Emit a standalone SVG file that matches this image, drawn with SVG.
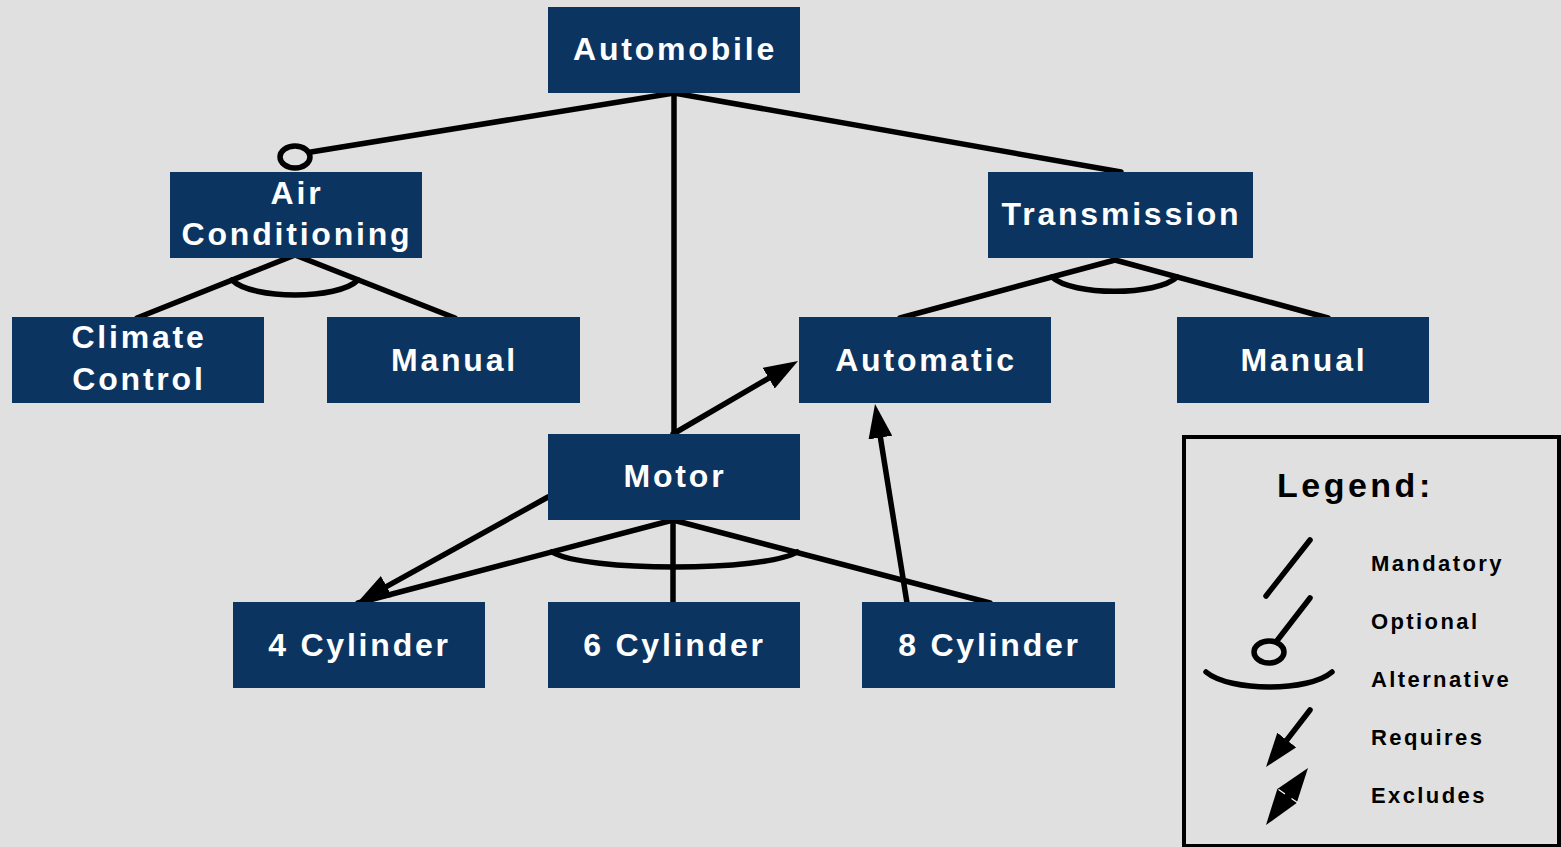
<svg xmlns="http://www.w3.org/2000/svg" width="1561" height="847" viewBox="0 0 1561 847">
  <style>
    .node rect { fill: #0b3461; }
    .node text { fill: #ffffff; font-family: "Liberation Sans", Arial, sans-serif; font-weight: bold; font-size: 32px; letter-spacing: 2.8px; text-anchor: middle; }
    .edge { stroke: #000000; stroke-width: 5.5; stroke-linecap: round; fill: none; }
    .legend-title { font-family: "Liberation Sans", Arial, sans-serif; font-weight: bold; font-size: 34px; letter-spacing: 3.5px; fill: #000000; }
    .legend-label { font-family: "Liberation Sans", Arial, sans-serif; font-weight: bold; font-size: 22px; letter-spacing: 2.4px; fill: #000000; }
  </style>
  <defs>
    <marker id="req" viewBox="0 0 34 24" refX="19" refY="12" markerWidth="34" markerHeight="24" markerUnits="userSpaceOnUse" orient="auto">
      <path d="M34,12 L0,0 L0,24 Z" fill="#000000"/>
    </marker>
  </defs>

  <rect x="0" y="0" width="1561" height="847" fill="#e0e0e0"/>

  <!-- connectors -->
  <g id="connectors">
    <!-- Automobile children -->
    <line class="edge" x1="674" y1="93" x2="311" y2="152"/>
    <ellipse class="edge" cx="295" cy="157" rx="15" ry="11"/>
    <line class="edge" x1="674" y1="93" x2="674" y2="434"/>
    <line class="edge" x1="674" y1="93" x2="1121" y2="172"/>

    <!-- Air Conditioning alternatives -->
    <line class="edge" x1="295" y1="255" x2="137" y2="318"/>
    <line class="edge" x1="295" y1="255" x2="455" y2="318"/>
    <path class="edge" d="M232,280 C252,300 338,300 358,280"/>

    <!-- Transmission alternatives -->
    <line class="edge" x1="1115" y1="260" x2="900" y2="318"/>
    <line class="edge" x1="1115" y1="260" x2="1328" y2="318"/>
    <path class="edge" d="M1052,277 C1072,296 1157,296 1177,277"/>

    <!-- Motor alternatives -->
    <line class="edge" x1="673" y1="520" x2="358" y2="603"/>
    <line class="edge" x1="673" y1="520" x2="673" y2="602"/>
    <line class="edge" x1="673" y1="520" x2="990" y2="603"/>
    <path class="edge" d="M552,552 C585,572 764,572 797,552"/>

    <!-- requires relations -->
    <line class="edge" x1="548" y1="497" x2="370.1" y2="595.7" marker-end="url(#req)"/>
    <line class="edge" x1="673" y1="434" x2="785.1" y2="368.6" marker-end="url(#req)"/>
    <line class="edge" x1="907" y1="603" x2="877.4" y2="418.8" marker-end="url(#req)"/>
  </g>

  <!-- feature nodes -->
  <g id="automobile" class="node">
    <rect x="548" y="7" width="252" height="86"/>
    <text x="675" y="60">Automobile</text>
  </g>
  <g id="air-conditioning" class="node">
    <rect x="170" y="172" width="252" height="86"/>
    <text x="297" y="204">Air</text>
    <text x="297" y="245">Conditioning</text>
  </g>
  <g id="transmission" class="node">
    <rect x="988" y="172" width="265" height="86"/>
    <text x="1121.5" y="225">Transmission</text>
  </g>
  <g id="climate-control" class="node">
    <rect x="12" y="317" width="252" height="86"/>
    <text x="139" y="348">Climate</text>
    <text x="139" y="390">Control</text>
  </g>
  <g id="ac-manual" class="node">
    <rect x="327" y="317" width="253" height="86"/>
    <text x="454.5" y="371">Manual</text>
  </g>
  <g id="automatic" class="node">
    <rect x="799" y="317" width="252" height="86"/>
    <text x="926" y="371">Automatic</text>
  </g>
  <g id="trans-manual" class="node">
    <rect x="1177" y="317" width="252" height="86"/>
    <text x="1304" y="371">Manual</text>
  </g>
  <g id="motor" class="node">
    <rect x="548" y="434" width="252" height="86"/>
    <text x="675" y="487">Motor</text>
  </g>
  <g id="cyl4" class="node">
    <rect x="233" y="602" width="252" height="86"/>
    <text x="359.5" y="656">4 Cylinder</text>
  </g>
  <g id="cyl6" class="node">
    <rect x="548" y="602" width="252" height="86"/>
    <text x="674.5" y="656">6 Cylinder</text>
  </g>
  <g id="cyl8" class="node">
    <rect x="862" y="602" width="253" height="86"/>
    <text x="989.5" y="656">8 Cylinder</text>
  </g>

  <!-- legend -->
  <g id="legend">
    <rect x="1184" y="437" width="375" height="409" fill="none" stroke="#000000" stroke-width="4"/>
    <text class="legend-title" x="1277" y="497">Legend:</text>
    <line class="edge" x1="1310" y1="540" x2="1266" y2="596"/>
    <line class="edge" x1="1310" y1="598" x2="1276" y2="642"/>
    <ellipse class="edge" cx="1269" cy="652" rx="15" ry="11"/>
    <path class="edge" d="M1206,672 C1230,692 1309,692 1332,672"/>
    <line class="edge" x1="1310" y1="710" x2="1275.2" y2="755.1" marker-end="url(#req)"/>
    <polygon points="1308,768 1296.7,803.1 1266,825 1277.3,788.9" fill="#000000"/>
    <line x1="1278.5" y1="789.5" x2="1285" y2="794" stroke="#ffffff" stroke-width="1.2"/>
    <line x1="1291.5" y1="798.5" x2="1298" y2="803" stroke="#ffffff" stroke-width="1.2"/>
    <text class="legend-label" x="1371" y="571">Mandatory</text>
    <text class="legend-label" x="1371" y="629">Optional</text>
    <text class="legend-label" x="1371" y="687">Alternative</text>
    <text class="legend-label" x="1371" y="745">Requires</text>
    <text class="legend-label" x="1371" y="803">Excludes</text>
  </g>
</svg>
